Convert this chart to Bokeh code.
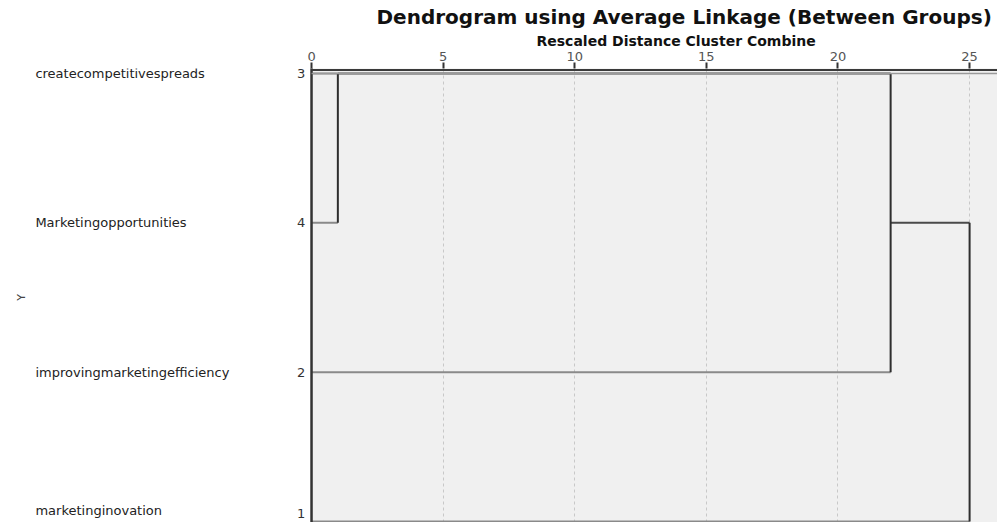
import math
from bokeh.plotting import figure
from bokeh.models import Range1d, FixedTicker, Title, ColumnDataSource
from bokeh.core.properties import value
from bokeh.embed import file_html
from bokeh.resources import INLINE

# ---------------- data ----------------
labels = ["createcompetitivespreads", "Marketingopportunities",
          "improvingmarketingefficiency", "marketinginovation"]
case_ids = ["3", "4", "2", "1"]
leaf_join = [1, 1, 22, 25]          # distance at which each leaf first joins
merge_dist = [1, 22, 25]            # rescaled distance of each merge
merge_upper = [0, 0, 1]             # row (0 = top) of upper child line
merge_lower = [1, 2, 3]             # row of lower child line
cluster_from = [1, 22]              # cluster lines: start distance
cluster_to = [22, 25]               # end distance (parent merge)
cluster_row = [0, 1]                # row on which the cluster line is drawn
x_ticks = [0, 5, 10, 15, 20, 25]

title_text = "Dendrogram using Average Linkage (Between Groups)"
subtitle_text = "Rescaled Distance Cluster Combine"
y_label = "Y"

n = len(labels)
row_y = [n - 1 - i for i in range(n)]

FONT = "DejaVu Sans"
X0, X1 = -11.816, 26.06
Y0, Y1 = -0.0067, 3.0335

p = figure(width=997, height=522, output_backend="svg", toolbar_location=None,
           x_range=Range1d(X0, X1), y_range=Range1d(Y0, Y1),
           x_axis_location="above", y_axis_location=None,
           min_border_left=0, min_border_right=0, min_border_bottom=0,
           min_border_top=68, background_fill_color="white",
           border_fill_color="white", outline_line_color=None)

# axis
ax = p.xaxis[0]
ax.ticker = FixedTicker(ticks=x_ticks)
ax.axis_line_color = None
ax.major_tick_out = 6
ax.major_tick_in = 0
ax.major_tick_line_color = "#333333"
ax.major_tick_line_width = 2
ax.minor_tick_line_color = None
ax.major_label_standoff = 2
ax.major_label_text_font = FONT
ax.major_label_text_font_size = "13px"
ax.major_label_text_color = "#555555"

p.ygrid.grid_line_color = None
p.xgrid.ticker = FixedTicker(ticks=x_ticks[1:])
p.xgrid.grid_line_color = "#c8c8c8"
p.xgrid.grid_line_dash = "3 3"
p.xgrid.grid_line_width = 1

p.add_layout(Title(text=subtitle_text, text_font=FONT, text_font_size="14px",
                   text_font_style="bold", align="left", offset=536,
                   standoff=0, text_color="#111111"), "above")
p.add_layout(Title(text=title_text, text_font=FONT, text_font_size="20px",
                   text_font_style="bold", align="left", offset=376,
                   standoff=3, text_color="#111111"), "above")

# gray plot background
bg = p.quad(left=[0], right=[X1], bottom=[Y0 - 1], top=[Y1 + 1],
            fill_color="#f0f0f0", line_color=None)
bg.level = "image"

# leaf horizontal lines
leaf_src = ColumnDataSource(dict(x0=[0] * n, x1=leaf_join, y=row_y))
p.segment(x0="x0", y0="y", x1="x1", y1="y", source=leaf_src,
          line_color="#8a8a8a", line_width=2)

# cluster horizontal lines
cl_src = ColumnDataSource(dict(x0=cluster_from, x1=cluster_to,
                               y=[row_y[r] for r in cluster_row]))
p.segment(x0="x0", y0="y", x1="x1", y1="y", source=cl_src,
          line_color="#4a4a4a", line_width=2)

# vertical merge lines
v_src = ColumnDataSource(dict(x=merge_dist,
                              y0=[row_y[r] for r in merge_upper],
                              y1=[row_y[r] for r in merge_lower]))
p.segment(x0="x", y0="y0", x1="x", y1="y1", source=v_src,
          line_color="#2e2e2e", line_width=2)

# frame: left axis line and top border
p.segment(x0=[0], y0=[Y0 - 1], x1=[0], y1=[Y1 + 1], line_color="#333333", line_width=2.5)
p.segment(x0=[0], y0=[3.024], x1=[X1], y1=[3.024], line_color="#3a3a3a", line_width=2)
p.segment(x0=[0], y0=[3.0], x1=[X1], y1=[3.0], line_color="#9a9a9a", line_width=1.5)

# row labels and case numbers (last row sits on the frame edge: lift it so it stays visible)
baselines = ["middle"] * (n - 1) + ["bottom"]
lifts = [0] * (n - 1) + [-3]
lab_src = ColumnDataSource(dict(y=row_y, text=labels, ids=case_ids, bl=baselines, yo=lifts))
p.text(x=-10.49, y="y", text="text", source=lab_src, text_font=value(FONT),
       text_font_size="13px", text_align="left", text_baseline="bl", y_offset="yo",
       text_color="#222222")
p.text(x=-0.24, y="y", text="ids", source=lab_src, text_font=value(FONT),
       text_font_size="13px", text_align="right", text_baseline="bl", y_offset="yo",
       text_color="#333333")
p.text(x=[-11.0], y=[1.5], text=[y_label], text_font=value(FONT),
       text_font_size="11px", text_align="center", text_baseline="middle",
       angle=math.pi / 2, text_color="#444444")

open("out.html", "w").write(file_html(p, INLINE))
